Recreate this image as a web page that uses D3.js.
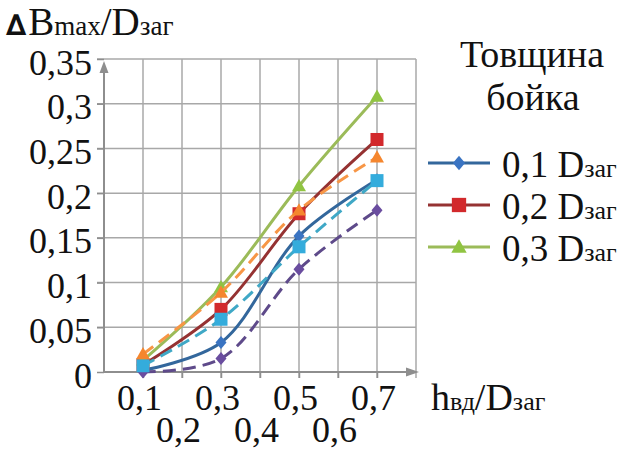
<!DOCTYPE html>
<html><head><meta charset="utf-8">
<script src="https://cdn.jsdelivr.net/npm/d3@7"></script>
</head><body style="margin:0;background:#fff">
<svg id="c" width="626" height="451" font-family="Liberation Serif"></svg>
<script>
const xCats = [0.1, 0.3, 0.5, 0.7];
const xTickLabels = ["0,1","0,2","0,3","0,4","0,5","0,6","0,7"];
const xTickValues = [0.1,0.2,0.3,0.4,0.5,0.6,0.7];
const yTickValues = [0,0.05,0.1,0.15,0.2,0.25,0.3,0.35];
const yTickLabels = ["0","0,05","0,1","0,15","0,2","0,25","0,3","0,35"];
const s01 = [0.002, 0.033, 0.152, 0.215];
const s02 = [0.008, 0.070, 0.177, 0.260];
const s03 = [0.013, 0.095, 0.208, 0.308];
const d01 = [0.000, 0.015, 0.115, 0.181];
const d02 = [0.007, 0.059, 0.140, 0.214];
const d03 = [0.020, 0.089, 0.181, 0.240];
const legendLabels = ["0,1 D","0,2 D","0,3 D"];

const SERIF = "Liberation Serif";
const series = [
  {v:s01, line:"#33679c", fill:"#3a74c2", m:"diamond", dash:null},
  {v:s02, line:"#953232", fill:"#d2292c", m:"square", dash:null},
  {v:s03, line:"#9bbb59", fill:"#90c442", m:"triangle", dash:null},
  {v:d01, line:"#5e4a8a", fill:"#6a4d9f", m:"diamond", dash:"13,7"},
  {v:d02, line:"#3fa8c6", fill:"#34acdc", m:"square", dash:"13,7"},
  {v:d03, line:"#f79646", fill:"#f5862e", m:"triangle", dash:"13,7"}
];

const svg = d3.select("#c");
const x = d3.scaleLinear().domain([0,0.8]).range([104,416]);
const y = d3.scaleLinear().domain([0,0.35]).range([372,59]);
const gridC = "#a8a8a8", axisC = "#8e8e8e";

// grid
svg.append("g").selectAll("line").data(d3.range(0,0.81,0.1).slice(1)).join("line")
  .attr("x1",d=>x(d)).attr("x2",d=>x(d)).attr("y1",y(0.35)).attr("y2",y(0)+6)
  .attr("stroke",gridC).attr("stroke-width",1.5);
svg.append("g").selectAll("line").data(yTickValues.slice(1)).join("line")
  .attr("x1",x(0)-7).attr("x2",x(0.8)).attr("y1",d=>y(d)).attr("y2",d=>y(d))
  .attr("stroke",gridC).attr("stroke-width",1.5);

// axes
const yAxis = d3.axisLeft(y).tickValues(yTickValues).tickFormat((d,i)=>yTickLabels[i]).tickSize(7).tickPadding(5);
const gy = svg.append("g").attr("transform",`translate(${x(0)},0)`).call(yAxis)
  .attr("font-family",SERIF).attr("font-size",36);
gy.select(".domain").remove();
gy.selectAll(".tick line").attr("stroke",axisC).attr("stroke-width",1.5);
gy.selectAll(".tick text").attr("font-family",SERIF).attr("font-size",36).attr("dy",15).attr("fill","#111");

const xAxis = d3.axisBottom(x).tickValues(xTickValues).tickFormat((d,i)=>xTickLabels[i]).tickSize(6);
const gx = svg.append("g").attr("transform",`translate(0,${y(0)})`).call(xAxis)
  .attr("font-family",SERIF).attr("font-size",36);
gx.select(".domain").remove();
gx.selectAll(".tick line").attr("stroke",axisC).attr("stroke-width",1.5);
gx.selectAll(".tick text").attr("font-family",SERIF).attr("font-size",36).attr("fill","#111")
  .attr("dy",null).attr("x",-4)
  .attr("y",(d,i)=> i%2===0 ? 38 : 70);

// axis lines with arrows
svg.append("line").attr("x1",x(0)).attr("x2",x(0)).attr("y1",y(0)).attr("y2",y(0.35)+8)
  .attr("stroke",axisC).attr("stroke-width",2);
svg.append("path").attr("d",`M${x(0)-4.5},${y(0.35)+14}L${x(0)},${y(0.35)+2}L${x(0)+4.5},${y(0.35)+14}Z`).attr("fill",axisC);
svg.append("line").attr("x1",x(0)).attr("x2",x(0.8)-6).attr("y1",y(0)).attr("y2",y(0))
  .attr("stroke",axisC).attr("stroke-width",2);
svg.append("path").attr("d",`M${x(0.8)-10},${y(0)-4.5}L${x(0.8)+3},${y(0)}L${x(0.8)-10},${y(0)+4.5}Z`).attr("fill",axisC);

// series
const lineGen = d3.line().x((d,i)=>x(xCats[i])).y(d=>y(d)).curve(d3.curveCatmullRom.alpha(0.5));
function marker(g, type, cx, cy, fill, sc=1){
  if(type==="diamond"){
    const r=6.5*sc;
    g.append("path").attr("d",`M${cx},${cy-r}L${cx+r*0.85},${cy}L${cx},${cy+r}L${cx-r*0.85},${cy}Z`).attr("fill",fill);
  } else if(type==="square"){
    const r=6.5*sc;
    g.append("rect").attr("x",cx-r).attr("y",cy-r).attr("width",2*r).attr("height",2*r).attr("fill",fill);
  } else {
    const r=7*sc;
    g.append("path").attr("d",`M${cx},${cy-r}L${cx+r},${cy+r*0.75}L${cx-r},${cy+r*0.75}Z`).attr("fill",fill);
  }
}
series.forEach(s=>{
  const g = svg.append("g");
  g.append("path").attr("d",lineGen(s.v)).attr("fill","none").attr("stroke",s.line)
    .attr("stroke-width",3).attr("stroke-dasharray",s.dash);
  s.v.forEach((v,i)=>marker(g,s.m,x(xCats[i]),y(v),s.fill));
});

// y title
const yt = svg.append("text").attr("x",6).attr("y",35).attr("font-family",SERIF).attr("fill","#111");
yt.append("tspan").text("∆").attr("font-size",29).attr("font-family","DejaVu Sans").attr("font-weight","bold");
yt.append("tspan").text("B").attr("font-size",39).attr("dx",2);
yt.append("tspan").text("max").attr("font-size",27);
yt.append("tspan").text("/D").attr("font-size",39);
yt.append("tspan").text("заг").attr("font-size",27);

// x title
const xt = svg.append("text").attr("x",431).attr("y",410).attr("font-family",SERIF).attr("fill","#111");
xt.append("tspan").text("h").attr("font-size",38);
xt.append("tspan").text("вд").attr("font-size",26);
xt.append("tspan").text("/D").attr("font-size",38);
xt.append("tspan").text("заг").attr("font-size",26);

// legend
svg.append("text").attr("x",532).attr("y",67).attr("text-anchor","middle").attr("font-family",SERIF).attr("font-size",38).attr("fill","#111").text("Товщина");
svg.append("text").attr("x",533).attr("y",110).attr("text-anchor","middle").attr("font-family",SERIF).attr("font-size",38).attr("fill","#111").text("бойка");
const legY = [163, 205, 247];
legendLabels.forEach((lab,i)=>{
  const s = series[i];
  const g = svg.append("g");
  g.append("line").attr("x1",428).attr("x2",490).attr("y1",legY[i]).attr("y2",legY[i])
    .attr("stroke",s.line).attr("stroke-width",3);
  marker(g,s.m,459,legY[i],s.fill,1.1);
  const t = g.append("text").attr("x",502).attr("y",legY[i]+14).attr("font-family",SERIF).attr("fill","#111");
  t.append("tspan").text(lab).attr("font-size",37);
  t.append("tspan").text("заг").attr("font-size",26);
});
</script>
</body></html>
